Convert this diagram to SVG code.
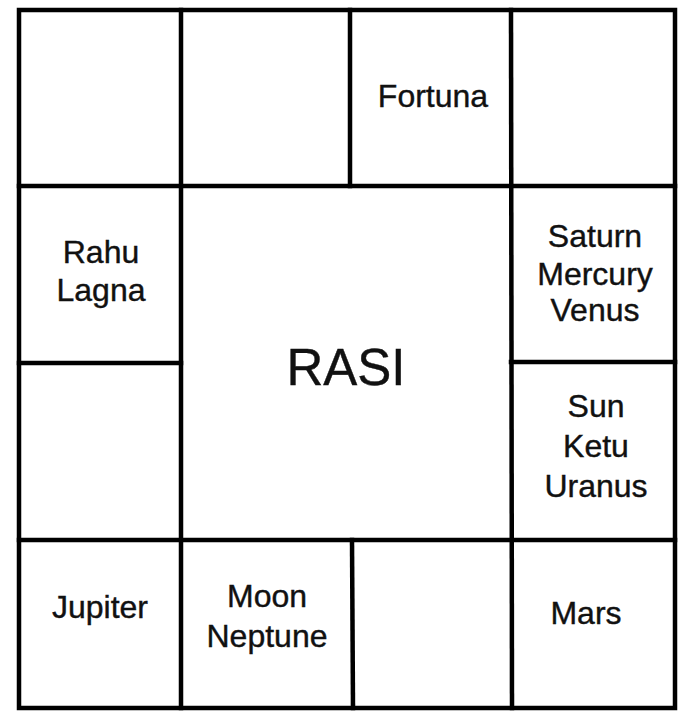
<svg xmlns="http://www.w3.org/2000/svg" width="693" height="720" viewBox="0 0 693 720">
<style>
.ln{stroke:#000;stroke-width:4.5;fill:none;stroke-linecap:square}
.t{font-family:"Liberation Sans",Arial,sans-serif;font-size:32px;fill:#111;stroke:#111;stroke-width:0.4;text-anchor:middle}
.big{font-size:51px}
</style>
<rect width="693" height="720" fill="#fff"/>
<g id="connectors">
<rect class="ln" x="19" y="10" width="656" height="698"/>
<line class="ln" x1="19" y1="186" x2="675" y2="186"/>
<line class="ln" x1="19" y1="363" x2="181" y2="363"/>
<line class="ln" x1="511" y1="362" x2="675" y2="362"/>
<line class="ln" x1="19" y1="540" x2="675" y2="540"/>
<line class="ln" x1="181" y1="10" x2="181" y2="708"/>
<line class="ln" x1="511" y1="10" x2="512" y2="708"/>
<line class="ln" x1="350" y1="10" x2="350" y2="186"/>
<line class="ln" x1="352" y1="540" x2="353" y2="708"/>
</g>
<g id="fortuna"><text class="t" x="433" y="107">Fortuna</text></g>
<g id="rahu-lagna"><text class="t" x="101" y="263">Rahu</text><text class="t" x="101" y="301">Lagna</text></g>
<g id="saturn-mercury-venus"><text class="t" x="595" y="247">Saturn</text><text class="t" x="595" y="285">Mercury</text><text class="t" x="595" y="321">Venus</text></g>
<g id="rasi"><text class="t big" x="346" y="385">RASI</text></g>
<g id="sun-ketu-uranus"><text class="t" x="596" y="417">Sun</text><text class="t" x="596" y="457">Ketu</text><text class="t" x="596" y="497">Uranus</text></g>
<g id="jupiter"><text class="t" x="100" y="618">Jupiter</text></g>
<g id="moon-neptune"><text class="t" x="267" y="607">Moon</text><text class="t" x="267" y="647">Neptune</text></g>
<g id="mars"><text class="t" x="586" y="624">Mars</text></g>
</svg>
